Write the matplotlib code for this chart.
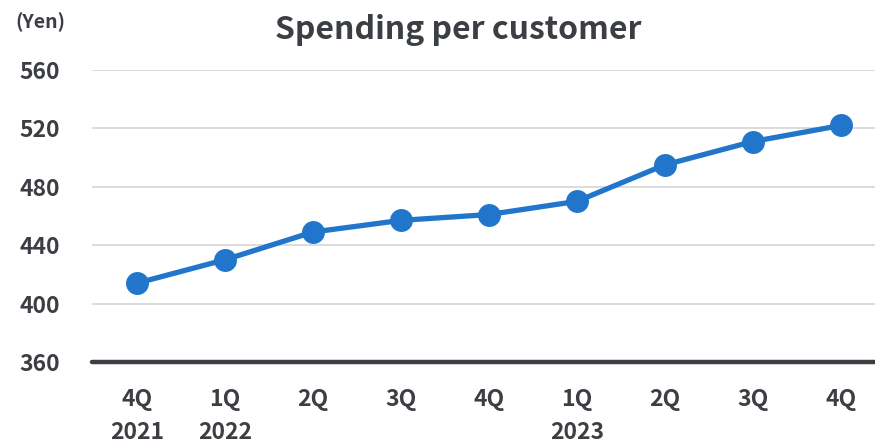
import matplotlib.pyplot as plt

quarters = ["4Q\n2021", "1Q\n2022", "2Q", "3Q", "4Q", "1Q\n2023", "2Q", "3Q", "4Q"]
spending = [414, 430, 449, 457, 461, 470, 495, 511, 522]
yticks = [360, 400, 440, 480, 520, 560]

text_color = "#3b3e43"
plt.rcParams["font.family"] = ["Noto Sans CJK JP", "DejaVu Sans"]
plt.rcParams["font.weight"] = "bold"

fig = plt.figure(figsize=(8.75, 4.44), dpi=100)
ax = fig.add_axes([92 / 875, 82 / 444, 1 - 92 / 875, 292 / 444])

x = list(range(len(quarters)))
ax.plot(x, spending, color="#2176cc", lw=3.8, marker="o", markersize=15.5,
        zorder=3, solid_capstyle="round")

ax.set_ylim(360, 560)
ax.set_xlim(-0.51, 8.39)
ax.set_yticks(yticks)
ax.set_xticks(x)
ax.set_xticklabels(quarters, linespacing=1.56)
ax.grid(axis="y", color="#d9d9d9", lw=1.3, zorder=0)
ax.axhline(360, color=text_color, lw=3.2, zorder=2, solid_capstyle="round", clip_on=False)

for s in ax.spines.values():
    s.set_visible(False)
ax.tick_params(length=0, labelsize=16.5, labelcolor=text_color)
ax.tick_params(axis="y", pad=23)
ax.tick_params(axis="x", pad=19)
for lbl in ax.get_xticklabels() + ax.get_yticklabels():
    lbl.set_fontweight("bold")

fig.text(458 / 875, 1 - 30 / 444, "Spending per customer", ha="center", va="center",
         fontsize=23, fontweight="bold", color=text_color)
fig.text(40 / 875, 1 - 22 / 444, "(Yen)", ha="center", va="center",
         fontsize=14, fontweight="bold", color=text_color)

fig.savefig("out.png", dpi=100)
